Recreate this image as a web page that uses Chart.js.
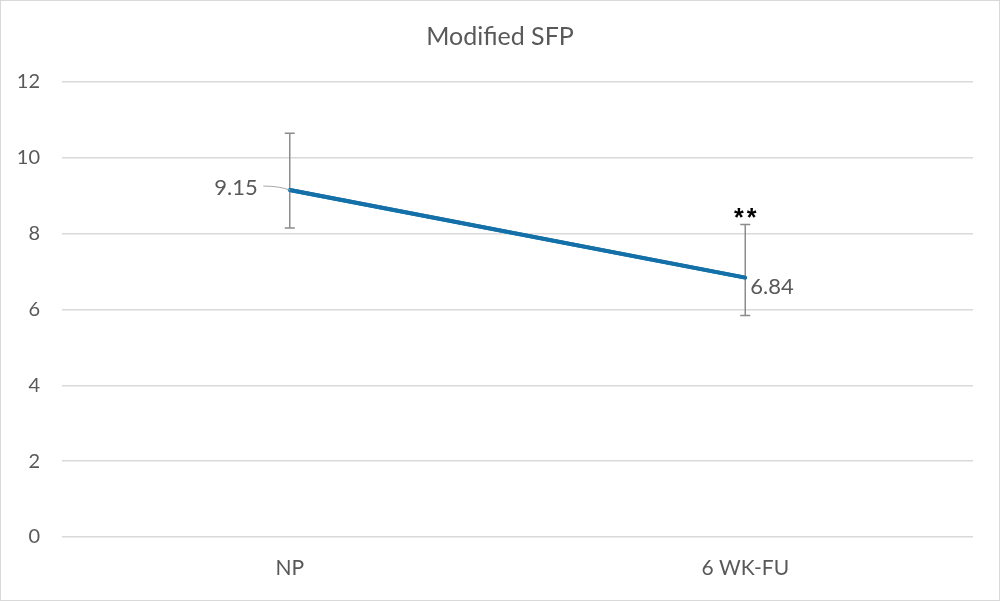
<!DOCTYPE html>
<html>
<head>
<meta charset="utf-8">
<script src="https://cdn.jsdelivr.net/npm/chart.js@4"></script>
<style>
  html, body { margin: 0; padding: 0; background: #fff; }
  #wrap { width: 1000px; height: 601px; position: relative; }
</style>
</head>
<body>
<div id="wrap"><canvas id="myChart"></canvas></div>
<script>
  const labels = ["NP", "6 WK-FU"];
  const means = [9.15, 6.84];
  const errUp = [1.5, 1.4];
  const errDown = [1.0, 1.0];
  const marks = ["", "**"];
  const titleText = "Modified SFP";

  const colors = {
    line: "#1470a8",
    text: "#595959",
    grid: "#d9d9d9",
    err: "#8c8c8c"
  };

  // title, error bars, value labels, significance stars and border
  const extras = {
    id: "extras",
    afterDatasetsDraw(chart) {
      const ctx = chart.ctx;
      const x = chart.scales.x;
      const y = chart.scales.y;
      ctx.save();
      ctx.fillStyle = colors.text;
      ctx.font = "25px Lato";
      ctx.textAlign = "center";
      ctx.textBaseline = "middle";
      ctx.fillText(titleText, chart.width / 2, 37);

      means.forEach((m, i) => {
        const px = x.getPixelForValue(i);
        const top = y.getPixelForValue(m + errUp[i]);
        const bot = y.getPixelForValue(m - errDown[i]);
        ctx.strokeStyle = colors.err;
        ctx.lineWidth = 1.5;
        ctx.beginPath();
        ctx.moveTo(px, top); ctx.lineTo(px, bot);
        ctx.moveTo(px - 5, top); ctx.lineTo(px + 5, top);
        ctx.moveTo(px - 5, bot); ctx.lineTo(px + 5, bot);
        ctx.stroke();
        if (marks[i]) {
          ctx.fillStyle = "#000";
          ctx.font = "bold 25px 'Liberation Sans'";
          ctx.letterSpacing = "3px";
          ctx.textAlign = "center";
          ctx.textBaseline = "alphabetic";
          ctx.fillText(marks[i], px + 1.5, top + 1);
          ctx.letterSpacing = "0px";
        }
      });
      // redraw line over error bars
      const meta = chart.getDatasetMeta(0);
      ctx.strokeStyle = colors.line;
      ctx.lineWidth = 4;
      ctx.lineCap = "round";
      ctx.beginPath();
      meta.data.forEach((p, i) => { if (i === 0) ctx.moveTo(p.x, p.y); else ctx.lineTo(p.x, p.y); });
      ctx.stroke();

      ctx.fillStyle = colors.text;
      ctx.font = "22px Lato";
      ctx.textBaseline = "middle";
      // first label: left of point with leader line
      const p0 = meta.data[0];
      ctx.textAlign = "right";
      ctx.fillText(means[0].toFixed(2), p0.x - 32, p0.y - 2);
      ctx.strokeStyle = "#a6a6a6";
      ctx.lineWidth = 1;
      ctx.beginPath();
      ctx.moveTo(p0.x - 26, p0.y - 4);
      ctx.quadraticCurveTo(p0.x - 10, p0.y - 4, p0.x, p0.y);
      ctx.stroke();
      // second label: right of point
      const p1 = meta.data[1];
      ctx.textAlign = "left";
      ctx.fillText(means[1].toFixed(2), p1.x + 5, p1.y + 9);

      ctx.strokeStyle = "#d9d9d9";
      ctx.lineWidth = 1;
      ctx.strokeRect(0.5, 0.5, chart.width - 1, chart.height - 1);
      ctx.restore();
    }
  };

  const ctx = document.getElementById("myChart").getContext("2d");
  new Chart(ctx, {
    type: "line",
    data: {
      labels: labels,
      datasets: [{
        data: means,
        borderColor: colors.line,
        borderWidth: 4,
        pointRadius: 0,
        fill: false
      }]
    },
    options: {
      responsive: true,
      maintainAspectRatio: false,
      animation: false,
      layout: { padding: { left: 0, right: 27, top: 82, bottom: 0 } },
      plugins: {
        legend: { display: false },
        tooltip: { enabled: false },
        title: { display: false }
      },
      scales: {
        x: {
          offset: true,
          grid: { display: false, drawTicks: false },
          border: { display: false },
          ticks: { color: colors.text, font: { family: "Lato", size: 21 }, padding: 19 },
          afterFit(scale) { scale.height = 64; }
        },
        y: {
          min: 0,
          max: 12,
          ticks: { stepSize: 2, color: colors.text, font: { family: "Lato", size: 20 }, padding: 22 },
          grid: { color: colors.grid, lineWidth: 1.5, drawTicks: false },
          border: { display: false },
          afterFit(scale) { scale.width = 62; }
        }
      }
    },
    plugins: [extras]
  });
</script>
</body>
</html>
